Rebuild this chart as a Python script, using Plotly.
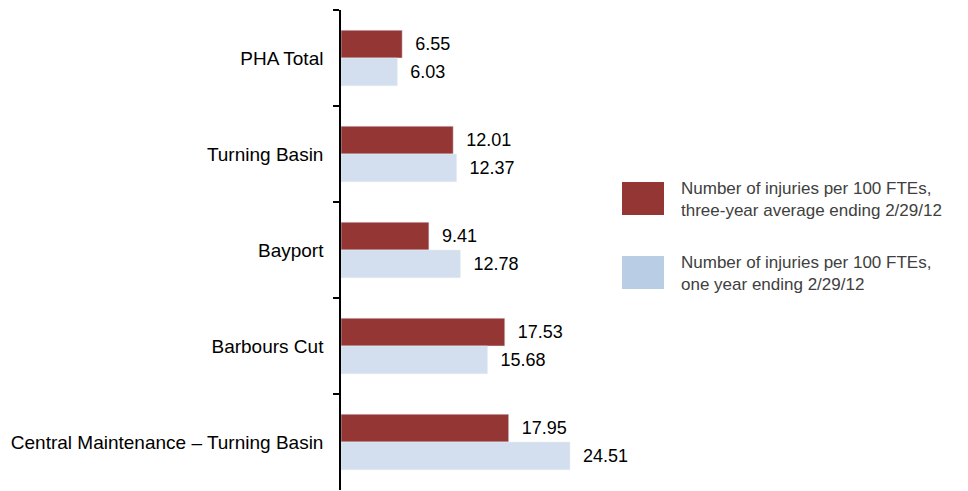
import plotly.graph_objects as go

categories = ["PHA Total", "Turning Basin", "Bayport", "Barbours Cut",
              "Central Maintenance \u2013 Turning Basin"]
three_year = [6.55, 12.01, 9.41, 17.53, 17.95]
one_year = [6.03, 12.37, 12.78, 15.68, 24.51]
legend_labels = ["Number of injuries per 100 FTEs,<br>three-year average ending 2/29/12",
                 "Number of injuries per 100 FTEs,<br>one year ending 2/29/12"]

RED = "#943634"
BLUE_BAR = "#D3DFEE"
BLUE_LEG = "#B9CDE5"
W, H = 968, 491
ML, MT, MB, MR = 341, 10, 1, 0
PW = W - ML - MR
PH = H - MT - MB
PX_PER_UNIT = 229 / 24.51

def px(x):
    return (x - ML) / PW

def py(y):
    return (H - MB - y) / PH

fig = go.Figure()
fig.add_trace(go.Bar(y=categories, x=three_year, orientation="h", marker_color=RED,
                     text=[f"  {v:.2f}" for v in three_year], textposition="outside",
                     textfont=dict(size=18, color="#000000"), cliponaxis=False,
                     name=legend_labels[0]))
fig.add_trace(go.Bar(y=categories, x=one_year, orientation="h", marker_color=BLUE_BAR,
                     text=[f"  {v:.2f}" for v in one_year], textposition="outside",
                     textfont=dict(size=18, color="#000000"), cliponaxis=False,
                     name=legend_labels[1]))

shapes = []
annotations = []
for i, (col, lab) in enumerate([(RED, legend_labels[0]), (BLUE_LEG, legend_labels[1])]):
    top = 182 + i * 74
    shapes.append(dict(type="rect", xref="paper", yref="paper",
                       x0=px(622), x1=px(664), y0=py(top + 33), y1=py(top),
                       fillcolor=col, line=dict(width=0)))
    annotations.append(dict(xref="paper", yref="paper", x=px(679), y=py(top + 17),
                            xanchor="left", yanchor="middle", align="left",
                            text=lab, showarrow=False,
                            font=dict(size=17, color="#404040")))

fig.update_layout(
    width=W, height=H,
    margin=dict(l=ML, r=MR, t=MT, b=MB),
    paper_bgcolor="white", plot_bgcolor="white",
    barmode="group", bargap=0.42, bargroupgap=0,
    showlegend=False,
    font=dict(family="Liberation Sans, Arial, sans-serif", size=18, color="#000000"),
    xaxis=dict(range=[0, PW / PX_PER_UNIT], visible=False, fixedrange=True),
    yaxis=dict(autorange="reversed", type="category", tickson="boundaries",
               ticks="outside", ticklen=6, tickcolor="#000000", tickwidth=1.5,
               showline=True, linecolor="#000000", linewidth=1.5,
               showgrid=False, zeroline=False,
               tickfont=dict(size=19, color="#000000"), ticklabelstandoff=12),
    shapes=shapes, annotations=annotations,
)

fig.write_html("out.html")
